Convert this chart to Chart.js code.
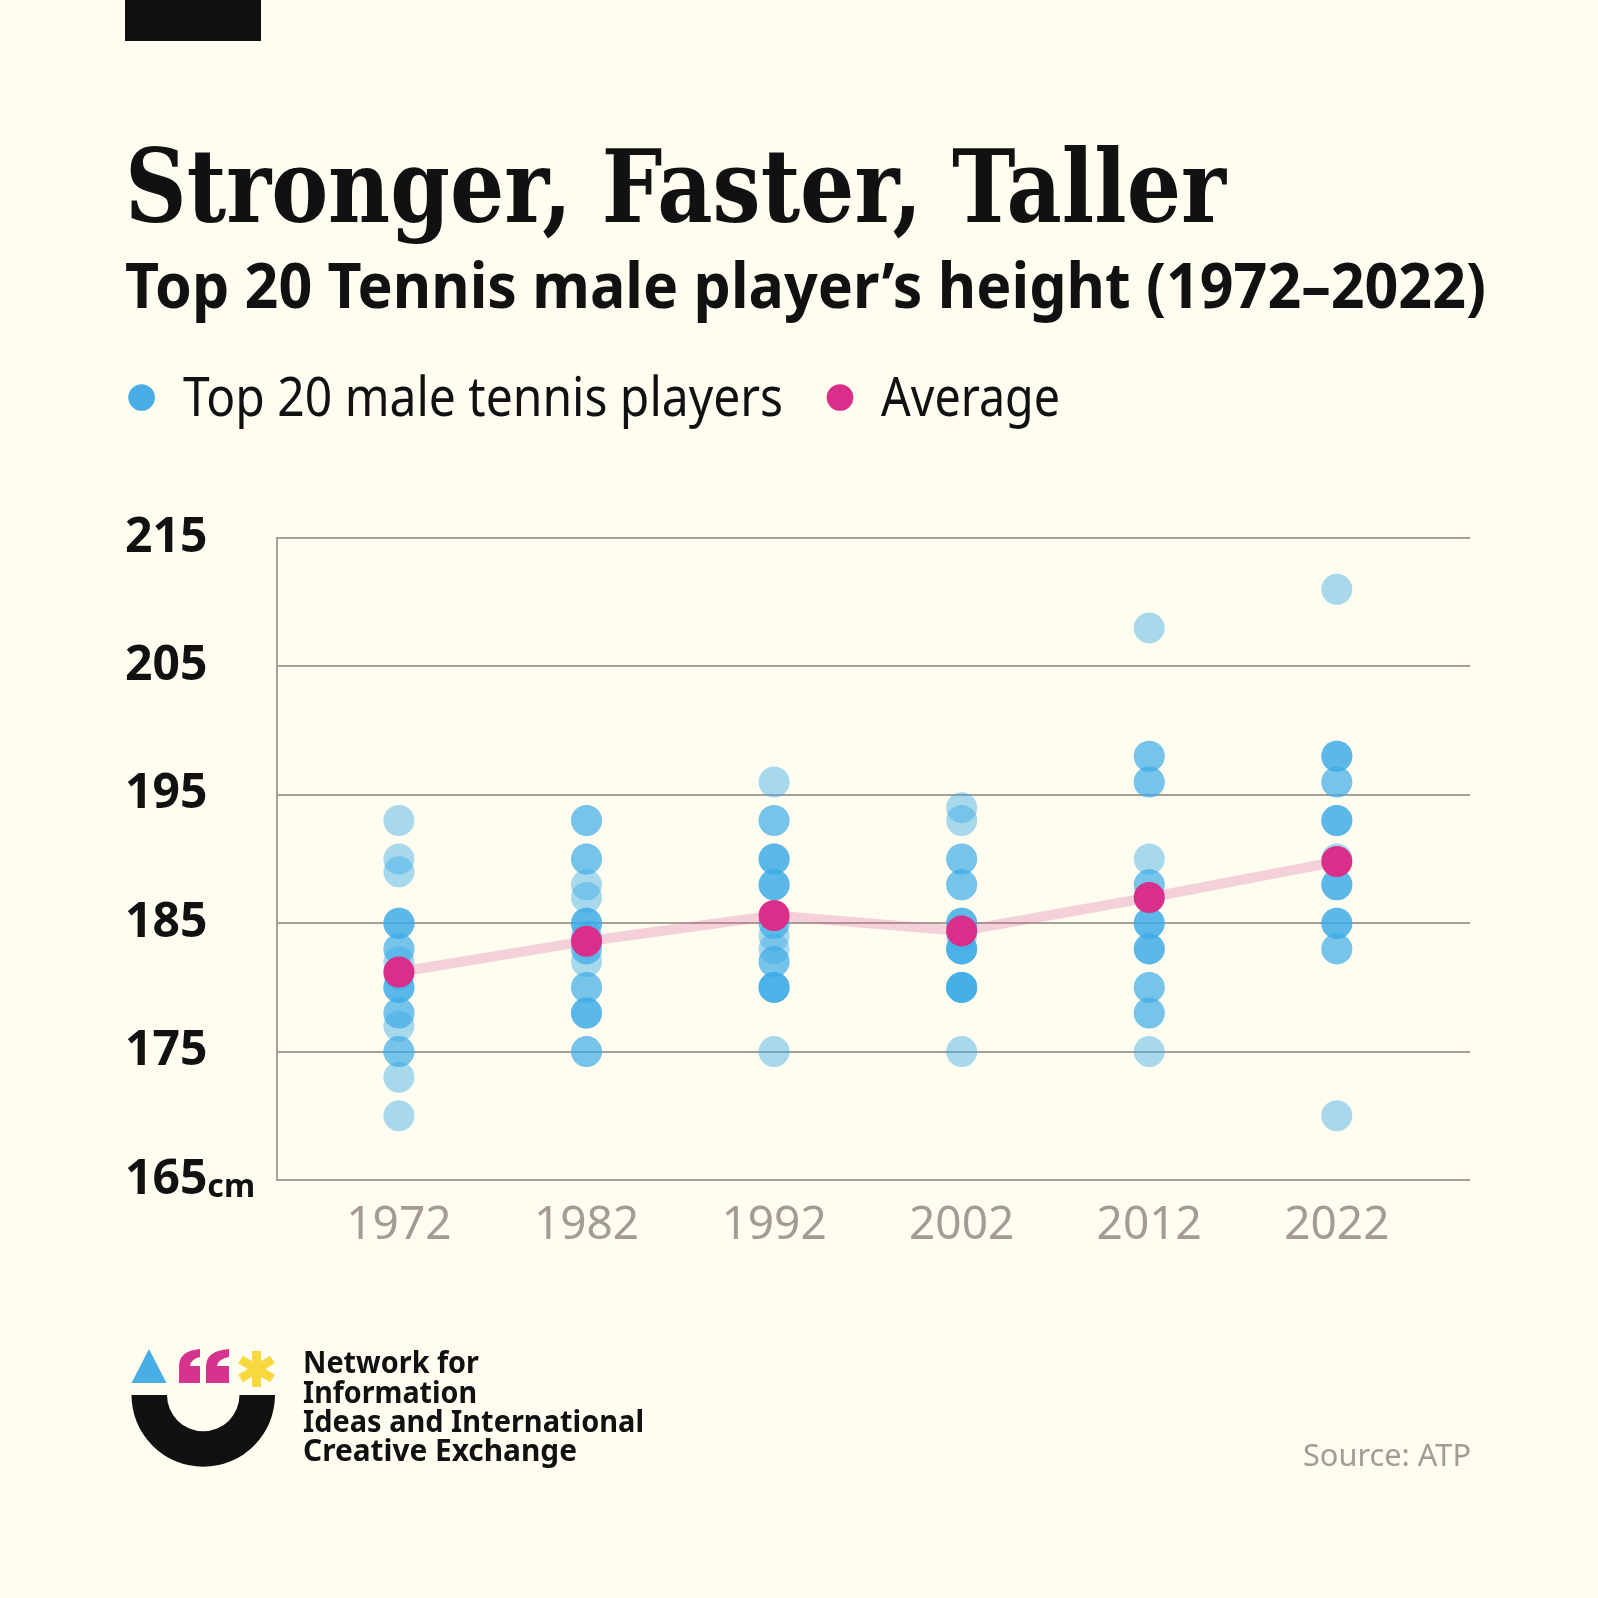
<!DOCTYPE html>
<html>
<head>
<meta charset="utf-8">
<title>Stronger, Faster, Taller</title>
<script src="https://cdn.jsdelivr.net/npm/chart.js@4.4.1/dist/chart.umd.min.js"></script>
<style>
    html, body { margin: 0; padding: 0; background: #fffdf0; }
    #wrap { position: relative; width: 1598px; height: 1598px; overflow: hidden; }
    #chart { position: absolute; left: 0; top: 0; }
    #overlay { position: absolute; left: 0; top: 0; pointer-events: none; }
    .title { font-family: "DejaVu Serif Condensed", "DejaVu Serif", serif; font-weight: bold; font-stretch: condensed; fill: #111; }
    .sub { font-family: "Noto Sans", sans-serif; font-weight: bold; fill: #111; }
    .legend { font-family: "Noto Sans", sans-serif; font-weight: 400; fill: #111; }
    .org { font-family: "Noto Sans", sans-serif; font-weight: bold; fill: #111; }
    .source { font-family: "Noto Sans", sans-serif; font-weight: 400; fill: #a39b95; }
</style>
</head>
<body>
<div id="wrap">
    <canvas id="chart" width="1598" height="1598"></canvas>
    <svg id="overlay" width="1598" height="1598" viewBox="0 0 1598 1598">
        <rect x="125" y="0" width="136" height="41" fill="#111"></rect>
        <text class="title" x="125" y="222" font-size="101" textLength="1101" lengthAdjust="spacingAndGlyphs">Stronger, Faster, Taller</text>
        <text class="sub" x="125" y="308" font-size="62" textLength="1361" lengthAdjust="spacingAndGlyphs">Top 20 Tennis male player’s height (1972–2022)</text>
        <g id="legend"></g>

        <!-- logo -->
        <polygon points="131.5,1383 149,1349 166.5,1383" fill="#4aaee6"></polygon>
        <path d="M179,1383 L179,1366 Q179,1351 200,1349 L200,1357 Q191,1359 190,1366 L200,1366 L200,1383 Z" fill="#d6338f"></path>
        <path d="M206,1383 L206,1366 Q206,1351 229,1349 L229,1357 Q218,1359 217,1366 L229,1366 L229,1383 Z" fill="#d6338f"></path>
        <g stroke="#f7d83f" stroke-width="9" stroke-linecap="butt">
            <line x1="256.5" y1="1351" x2="256.5" y2="1387"></line>
            <line x1="240.5" y1="1359.5" x2="272.5" y2="1378.5"></line>
            <line x1="240.5" y1="1378.5" x2="272.5" y2="1359.5"></line>
        </g>
        <path d="M131.5,1395 L167,1395 A36.2,36.2 0 0 0 239.5,1395 L275,1395 A71.7,71.7 0 0 1 131.5,1395 Z" fill="#111"></path>

        <text class="org" x="303" y="1373" font-size="30" textLength="176" lengthAdjust="spacingAndGlyphs">Network for</text>
        <text class="org" x="303" y="1402.5" font-size="30" textLength="174" lengthAdjust="spacingAndGlyphs">Information</text>
        <text class="org" x="303" y="1431.5" font-size="30" textLength="341" lengthAdjust="spacingAndGlyphs">Ideas and International</text>
        <text class="org" x="303" y="1460.5" font-size="30" textLength="274" lengthAdjust="spacingAndGlyphs">Creative Exchange</text>

        <text class="source" x="1303" y="1466" font-size="31" textLength="168" lengthAdjust="spacingAndGlyphs">Source: ATP</text>
    </svg>
</div>

<script>
// ---- data ----
const years = [1972, 1982, 1992, 2002, 2012, 2022];

const heights1972 = [193, 190, 189, 185, 185, 185, 183, 183, 182, 181, 180, 180, 180, 178, 178, 177, 175, 175, 173, 170];
const heights1982 = [193, 193, 190, 190, 188, 187, 185, 185, 185, 184, 183, 183, 182, 180, 180, 178, 178, 178, 175, 175];
const heights1992 = [196, 193, 193, 190, 190, 190, 188, 188, 188, 185, 185, 184, 183, 182, 182, 180, 180, 180, 180, 175];
const heights2002 = [194, 193, 190, 190, 188, 188, 185, 185, 185, 184, 183, 183, 183, 183, 180, 180, 180, 180, 180, 175];
const heights2012 = [208, 198, 198, 196, 196, 190, 188, 188, 187, 185, 185, 185, 183, 183, 183, 180, 180, 178, 178, 175];
const heights2022 = [211, 198, 198, 198, 196, 196, 193, 193, 193, 190, 188, 188, 188, 185, 185, 185, 183, 183, 170];

const averages = [181.2, 183.6, 185.6, 184.4, 187.0, 189.8];

const yTicks = [165, 175, 185, 195, 205, 215];
const seriesNames = ['Top 20 male tennis players', 'Average'];
const unitLabel = 'cm';

// ---- colours ----
const playerColor = 'rgba(60, 170, 230, 0.45)';
const legendBlue = '#4aaee6';
const avgColor = '#d92e8a';
const avgLine = 'rgba(220, 105, 165, 0.3)';
const gridColor = '#a6a097';

document.addEventListener("DOMContentLoaded", () => {
    buildLegend();
    initChart();
});

// legend in the header, built from the series names
function buildLegend() {
    const g = document.getElementById('legend');
    const ns = 'http://www.w3.org/2000/svg';
    const items = [
        { cx: 141.6, tx: 183, w: 600, color: legendBlue },
        { cx: 840, tx: 881, w: 179, color: avgColor }
    ];
    items.forEach((it, i) => {
        const c = document.createElementNS(ns, 'circle');
        c.setAttribute('cx', it.cx);
        c.setAttribute('cy', 397.5);
        c.setAttribute('r', 13.3);
        c.setAttribute('fill', it.color);
        g.appendChild(c);

        const t = document.createElementNS(ns, 'text');
        t.setAttribute('class', 'legend');
        t.setAttribute('x', it.tx);
        t.setAttribute('y', 416);
        t.setAttribute('font-size', 54);
        t.setAttribute('textLength', it.w);
        t.setAttribute('lengthAdjust', 'spacingAndGlyphs');
        t.textContent = seriesNames[i];
        g.appendChild(t);
    });
}

// small "cm" after the lowest y tick
const unitPlugin = {
    id: 'unitLabel',
    afterDraw(chart) {
        const y = chart.scales.y;
        const ctx = chart.ctx;
        ctx.save();
        ctx.font = '700 48px "Noto Sans", sans-serif';
        const w = ctx.measureText(String(yTicks[0])).width;
        ctx.font = '700 32px "Noto Sans", sans-serif';
        ctx.fillStyle = '#111';
        ctx.textBaseline = 'alphabetic';
        ctx.textAlign = 'left';
        ctx.fillText(unitLabel, y.left + w, y.getPixelForValue(yTicks[0]) + 17);
        ctx.restore();
    }
};

function initChart() {
    const allHeights = [heights1972, heights1982, heights1992, heights2002, heights2012, heights2022];
    const playerPoints = [];
    allHeights.forEach((list, i) => {
        list.forEach(h => playerPoints.push({ x: years[i], y: h }));
    });
    const avgPoints = averages.map((v, i) => ({ x: years[i], y: v }));

    const ctx = document.getElementById('chart').getContext('2d');
    new Chart(ctx, {
        type: 'scatter',
        data: {
            datasets: [
                {
                    type: 'line',
                    label: seriesNames[1],
                    data: avgPoints,
                    borderColor: avgLine,
                    borderWidth: 10,
                    tension: 0,
                    pointRadius: 15.5,
                    pointBackgroundColor: avgColor,
                    pointBorderWidth: 0,
                    fill: false
                },
                {
                    label: seriesNames[0],
                    data: playerPoints,
                    pointRadius: 15.5,
                    pointBackgroundColor: playerColor,
                    pointBorderWidth: 0
                }
            ]
        },
        options: {
            responsive: false,
            animation: false,
            layout: {
                padding: { left: 125, top: 538, right: 128, bottom: 338 }
            },
            plugins: {
                legend: { display: false },
                tooltip: { enabled: false }
            },
            scales: {
                x: {
                    type: 'linear',
                    min: 1965.5,
                    max: 2029.1,
                    afterBuildTicks: (axis) => {
                        axis.ticks = years.map(v => ({ value: v }));
                    },
                    afterFit: (axis) => { axis.height = 80; },
                    grid: { display: false, drawTicks: false },
                    border: { display: false },
                    ticks: {
                        padding: 18,
                        color: '#a59b96',
                        font: { family: '"Noto Sans", sans-serif', size: 46, weight: 400 },
                        callback: (v) => String(v)
                    }
                },
                y: {
                    min: 165,
                    max: 215,
                    afterBuildTicks: (axis) => {
                        axis.ticks = yTicks.map(v => ({ value: v }));
                    },
                    afterFit: (axis) => { axis.width = 152; },
                    grid: { color: gridColor, lineWidth: 2, drawTicks: false },
                    border: { display: true, color: gridColor, width: 2 },
                    ticks: {
                        crossAlign: 'far',
                        color: '#111',
                        font: { family: '"Noto Sans", sans-serif', size: 48, weight: 700 },
                        callback: (v) => String(v)
                    }
                }
            }
        },
        plugins: [unitPlugin]
    });
}
</script>
</body>
</html>
